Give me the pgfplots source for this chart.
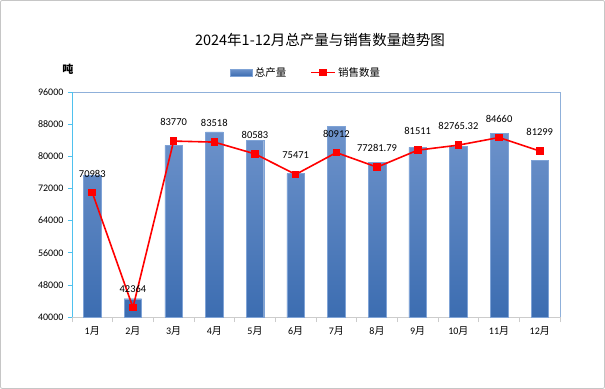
\documentclass[border=0pt]{standalone}
\usepackage{pgfplots}
\pgfplotsset{compat=1.18}
\usepackage{fontspec}
\setmainfont{Carlito}
\newfontfamily\cjk{Noto Sans CJK SC}
\definecolor{barTop}{HTML}{6E93CB}
\definecolor{barBot}{HTML}{3C6DB1}
\definecolor{barEdge}{HTML}{7FA3D6}
\definecolor{leftAx}{HTML}{4FC1EE}
\definecolor{frameAx}{HTML}{8FB0DA}
\begin{document}
\begin{tikzpicture}[x=1pt,y=1pt]
\draw[gray!45, line width=0.8pt, rounded corners=2pt] (0.5,0.5) rectangle (604.5,388.5);
\node[font=\fontsize{14.5}{16}\selectfont\cjk] at (320,349) {2024年1-12月总产量与销售数量趋势图};
\node[font=\fontsize{11}{13}\selectfont\cjk\bfseries] at (68,320) {吨};
\begin{axis}[
  at={(72pt,72pt)}, anchor=south west,
  scale only axis, width=488pt, height=225pt,
  xmin=-0.5, xmax=11.5, ymin=40000, ymax=96000,
  ytick={40000,48000,...,96000},
  xtick={0,...,11},
  xticklabels={1{\cjk 月},2{\cjk 月},3{\cjk 月},4{\cjk 月},5{\cjk 月},6{\cjk 月},7{\cjk 月},8{\cjk 月},9{\cjk 月},10{\cjk 月},11{\cjk 月},12{\cjk 月}},
  minor xtick={-0.5,0.5,...,11.5},
  xtick pos=bottom, ytick pos=left,
  tick align=outside,
  major x tick style={draw=none},
  minor x tick style={draw=gray!40, line width=0.6pt},
  minor tick length=5pt,
  y tick style={draw=leftAx, line width=0.6pt},
  major tick length=4pt,
  axis line style={draw=none},
  ticklabel style={font=\fontsize{10}{12}\selectfont},
  /pgf/number format/assume math mode=true,
  /pgf/number format/set thousands separator={},
  scaled y ticks=false,
  yticklabel style={xshift=-1pt},
  xticklabel style={yshift=-2pt},
  legend style={at={(0.48,1.0)}, anchor=south, yshift=10pt, draw=none, fill=none,
    legend columns=2, font=\fontsize{10.5}{12}\selectfont\cjk,
    /tikz/every even column/.append style={column sep=22pt}},
  legend image code/.code={},
  clip=false,
]
\draw[frameAx, line width=0.7pt] (rel axis cs:0,1) -- (rel axis cs:1,1) -- (rel axis cs:1,0);
\draw[gray!40, line width=0.7pt] (rel axis cs:0,0) -- (rel axis cs:1,0);
\draw[leftAx, line width=0.8pt] (rel axis cs:0,0) -- (rel axis cs:0,1);
\addplot[ybar, bar width=0.43, bar shift=0pt, draw=barEdge, line width=0.4pt,
  top color=barTop, bottom color=barBot,
  legend image code/.code={\fill[top color=barTop,bottom color=barBot,draw=barEdge] (0pt,-3.5pt) rectangle (22pt,3.5pt);}]
coordinates {(0,75300) (1,44550) (2,82690) (3,86080) (4,84010) (5,75660) (6,87400) (7,78550) (8,82190) (9,82520) (10,85670) (11,79050)};
\addlegendentry{总产量}
\addplot[red, line width=1.6pt, mark=square*, mark size=3pt, mark options={solid, fill=red},
  nodes near coords, point meta=explicit symbolic,
  every node near coord/.append style={font=\fontsize{10.5}{12}\selectfont, black, anchor=center, yshift=19pt},
  legend image code/.code={\draw[red, line width=1.6pt] (0pt,0pt) -- (24pt,0pt); \fill[red] (9pt,-3pt) rectangle (15pt,3pt);}]
table[meta=lab] {
x y lab
0 70983 70983
1 42364 42364
2 83770 83770
3 83518 83518
4 80583 80583
5 75471 75471
6 80912 80912
7 77281.79 77281.79
8 81511 81511
9 82765.32 82765.32
10 84660 84660
11 81299 81299
};
\addlegendentry{销售数量}
\end{axis}
\end{tikzpicture}
\end{document}
